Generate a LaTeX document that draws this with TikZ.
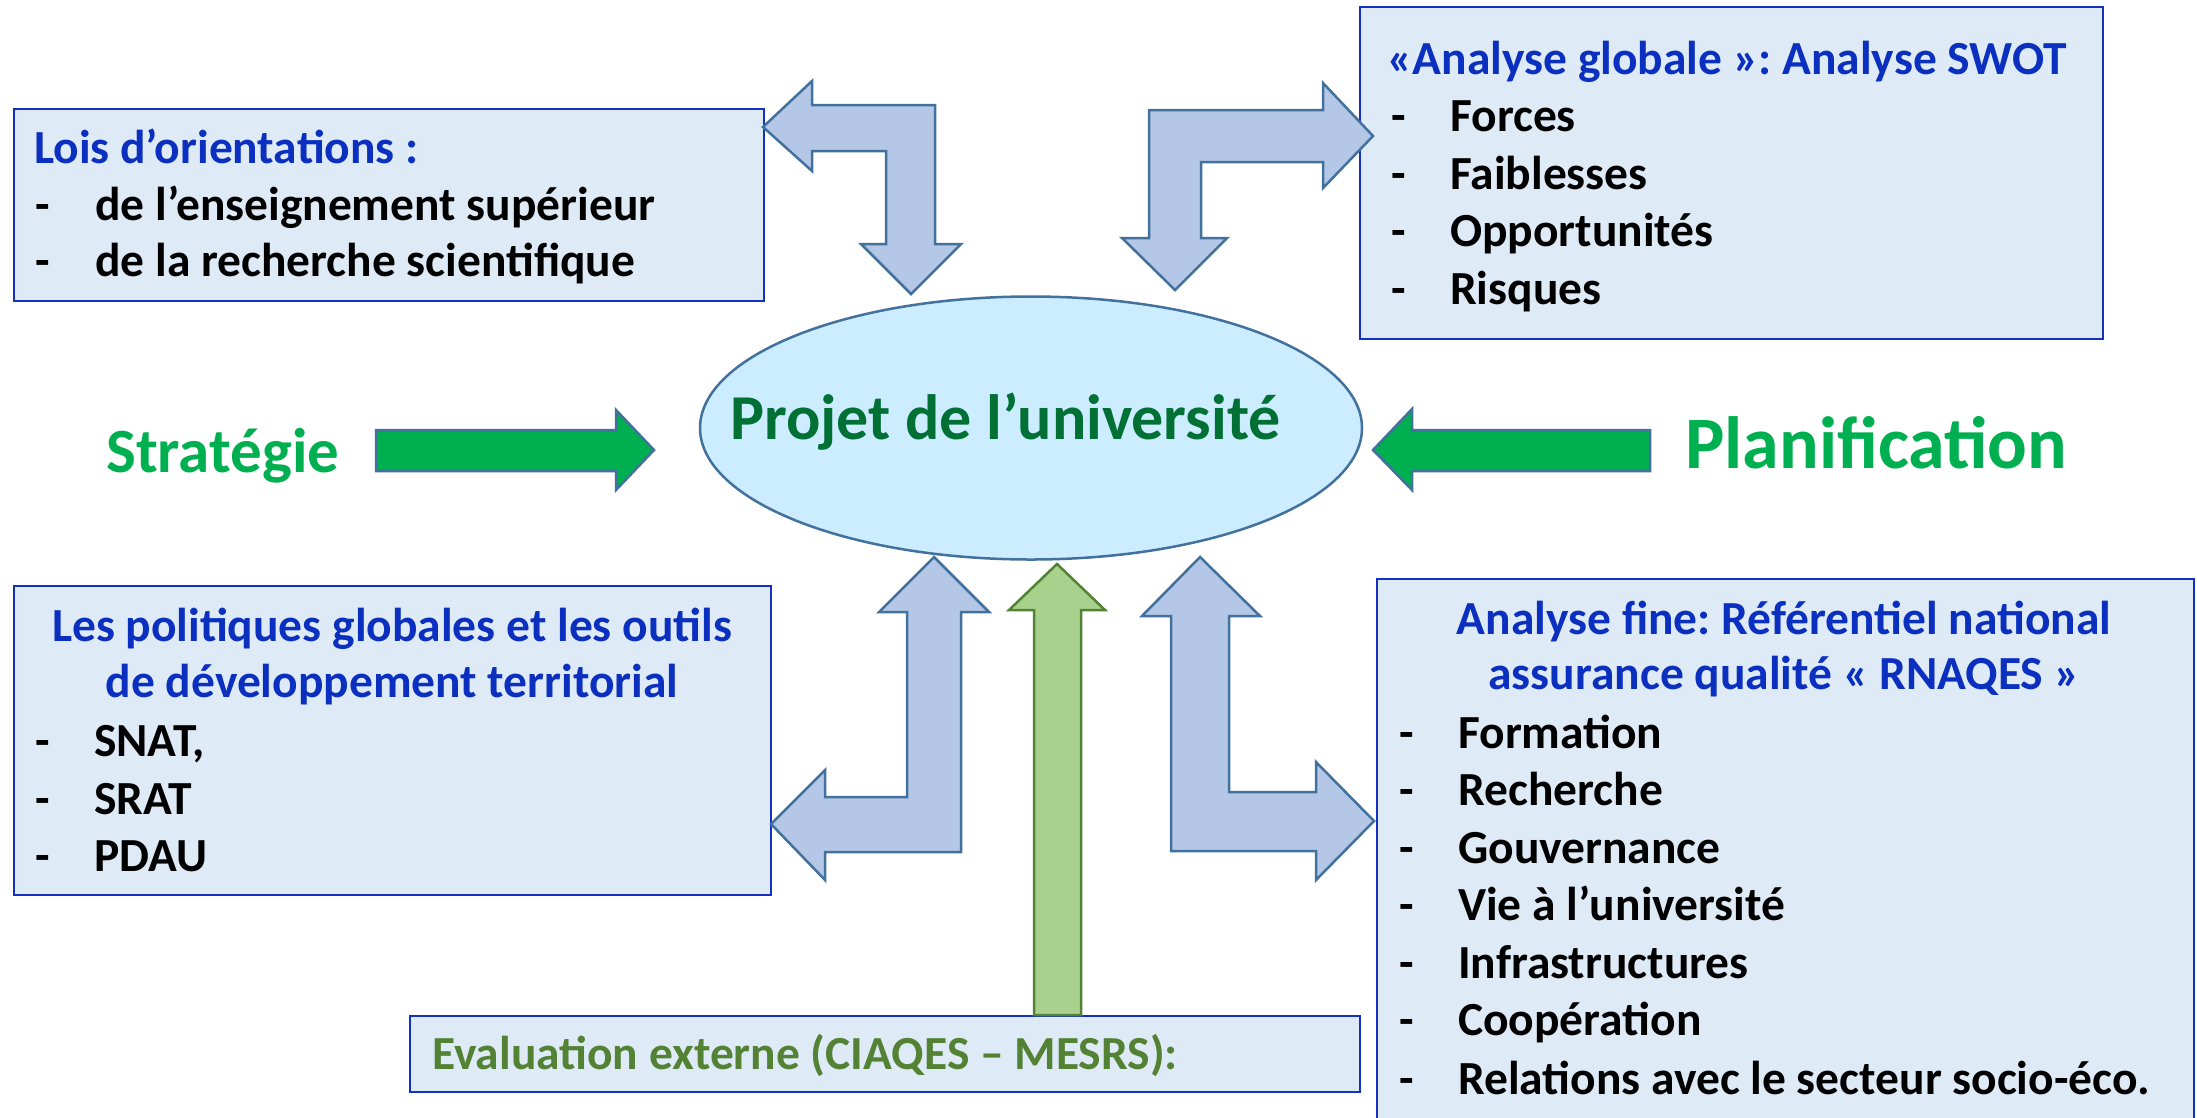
\documentclass[tikz,border=0pt]{standalone}
\usepackage{fontspec}
\setmainfont{Carlito}
\frenchspacing
\usetikzlibrary{shapes.geometric}
\definecolor{boxfill}{HTML}{DEEBF7}
\definecolor{boxline}{HTML}{1530C0}
\definecolor{titleblue}{HTML}{0B2FBF}
\definecolor{ellfill}{HTML}{CCECFF}
\definecolor{arrline}{HTML}{41719C}
\definecolor{arrfill}{HTML}{B4C7E7}
\definecolor{brightgreen}{HTML}{00B050}
\definecolor{darkgreen}{HTML}{007034}
\definecolor{lightgreen}{HTML}{A9D18E}
\definecolor{olivegreen}{HTML}{548235}
\tikzset{
  infobox/.style={draw=boxline, fill=boxfill, line width=2.5pt},
  bluearrow/.style={draw=arrline, fill=arrfill, line width=2.5pt, line join=miter},
  greenarrow/.style={draw=arrline, fill=brightgreen, line width=2.5pt},
  upgreen/.style={draw=olivegreen, fill=lightgreen, line width=2.5pt},
  txt/.style={inner sep=0pt, anchor=base west, font=\fontsize{47.5}{56}\selectfont\bfseries},
  ttl/.style={txt, text=titleblue},
  ttlc/.style={inner sep=0pt, anchor=base, font=\fontsize{47.5}{56}\selectfont\bfseries, text=titleblue},
  item/.style={txt, text=black},
}
\begin{document}
\begin{tikzpicture}[x=1pt, y=-1pt]
\useasboundingbox (0,0) rectangle (2197,1117);
% boxes
\draw[infobox] (14,109) rectangle (764,301);
\draw[infobox] (1360,7) rectangle (2103,339);
\draw[infobox] (14,586) rectangle (771,895);
\draw[infobox] (1377,579) rectangle (2194,1125);
\draw[infobox] (410,1016) rectangle (1360,1092);
% ellipse
\node[draw=arrline, fill=ellfill, line width=2.5pt, ellipse, minimum width=662pt, minimum height=263pt, inner sep=0pt] (proj) at (1031,428) {};
% blue bent arrows
\draw[bluearrow] (763,127) -- (812,81) -- (812,105) -- (935,105) -- (935,244) -- (961,244) -- (911,294) -- (861,244) -- (886,244) -- (886,151) -- (812,151) -- (812,171) -- cycle;
\draw[bluearrow] (1373,136) -- (1323,83) -- (1323,110) -- (1149,110) -- (1149,238) -- (1122,238) -- (1175,290) -- (1227,238) -- (1201,238) -- (1201,162) -- (1323,162) -- (1323,188) -- cycle;
\draw[bluearrow] (934,557) -- (989,612) -- (961,612) -- (961,852) -- (825,852) -- (825,880) -- (771,824) -- (825,770) -- (825,797) -- (907,797) -- (907,612) -- (879,612) -- cycle;
\draw[bluearrow] (1200,557) -- (1260,616) -- (1229,616) -- (1229,792) -- (1316,792) -- (1316,762) -- (1374,821) -- (1316,880) -- (1316,851) -- (1171,851) -- (1171,616) -- (1142,616) -- cycle;
% green arrows
\draw[upgreen] (1057,564) -- (1105,610) -- (1081,610) -- (1081,1015) -- (1034,1015) -- (1034,610) -- (1009,610) -- cycle;
\draw[greenarrow] (376,430) -- (616,430) -- (616,410) -- (654,450) -- (616,490) -- (616,471) -- (376,471) -- cycle;
\draw[greenarrow] (1650,430) -- (1412,430) -- (1412,409) -- (1373,450) -- (1412,490) -- (1412,471) -- (1650,471) -- cycle;
% texts
\node[inner sep=0pt, anchor=base west, text=darkgreen, font=\fontsize{64}{72}\selectfont\bfseries] (projt) at (730,439) {Projet de l’université};
\node[inner sep=0pt, anchor=base west, text=brightgreen, font=\fontsize{63}{72}\selectfont\bfseries] (strat) at (106,472) {Stratégie};
\node[inner sep=0pt, anchor=base west, text=brightgreen, font=\fontsize{74}{84}\selectfont\bfseries] (plan) at (1685,468) {Planification};
% box 1
\node[ttl] (t1) at (34,163) {Lois d’orientations :};
\node[item] (d1a) at (35,220) {-}; \node[item] (i1a) at (95,220) {de l’enseignement supérieur};
\node[item] (d1b) at (35,276) {-}; \node[item] (i1b) at (95,276) {de la recherche scientifique};
% box 2
\node[ttl] (t2) at (1387,74) {«Analyse globale »: Analyse SWOT};
\node[item] (d2a) at (1391,131) {-}; \node[item] (i2a) at (1450,131) {Forces};
\node[item] (d2b) at (1391,189) {-}; \node[item] (i2b) at (1450,189) {Faiblesses};
\node[item] (d2c) at (1391,246) {-}; \node[item] (i2c) at (1450,246) {Opportunités};
\node[item] (d2d) at (1391,304) {-}; \node[item] (i2d) at (1450,304) {Risques};
% box 3
\node[ttlc] (t3a) at (392,641) {Les politiques globales et les outils};
\node[ttlc] (t3b) at (392,697) {de développement territorial};
\node[item] (d3a) at (35,756) {-}; \node[item] (i3a) at (94,756) {SNAT,};
\node[item] (d3b) at (35,814) {-}; \node[item] (i3b) at (94,814) {SRAT};
\node[item] (d3c) at (35,871) {-}; \node[item] (i3c) at (94,871) {PDAU};
% box 4
\node[ttlc] (t4a) at (1784,634) {Analyse fine: Référentiel national};
\node[ttlc] (t4b) at (1784,689) {assurance qualité « RNAQES »};
\node[item] (d4a) at (1399,748) {-}; \node[item] (i4a) at (1458,748) {Formation};
\node[item] (d4b) at (1399,805) {-}; \node[item] (i4b) at (1458,805) {Recherche};
\node[item] (d4c) at (1399,863) {-}; \node[item] (i4c) at (1458,863) {Gouvernance};
\node[item] (d4d) at (1399,920) {-}; \node[item] (i4d) at (1458,920) {Vie à l’université};
\node[item] (d4e) at (1399,978) {-}; \node[item] (i4e) at (1458,978) {Infrastructures};
\node[item] (d4f) at (1399,1035) {-}; \node[item] (i4f) at (1458,1035) {Coopération};
\node[item] (d4g) at (1399,1094) {-}; \node[item] (i4g) at (1458,1094) {Relations avec le secteur socio-éco.};
% box 5
\node[txt, text=olivegreen] (t5) at (432,1069) {Evaluation externe (CIAQES – MESRS):};
\end{tikzpicture}
\end{document}
